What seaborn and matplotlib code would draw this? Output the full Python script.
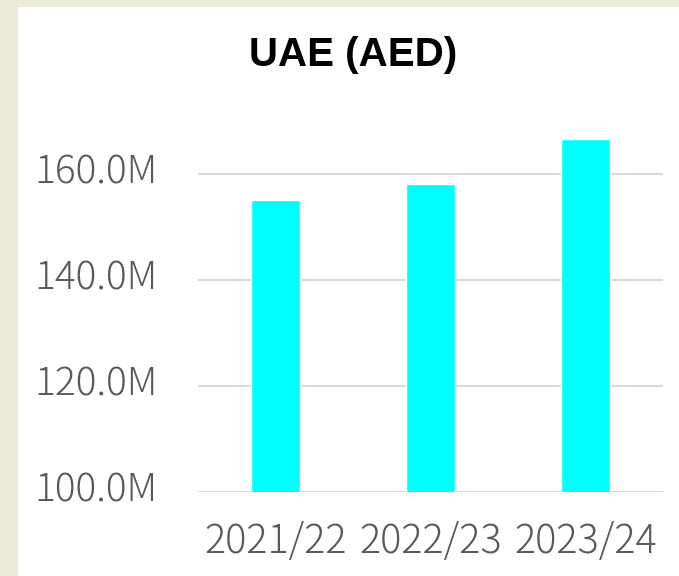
import matplotlib
matplotlib.use('Agg')
import matplotlib.pyplot as plt
import matplotlib.transforms as mtransforms
import seaborn as sns
import pandas as pd
from matplotlib.patches import Rectangle
from matplotlib.ticker import FuncFormatter

# chart data
years = ['2021/22', '2022/23', '2023/24']
revenue_m = [155.1, 158.1, 166.6]
y_ticks = [100, 120, 140, 160]

df = pd.DataFrame({'Year': years, 'Revenue': revenue_m})

sns.set_theme(style='white')
plt.rcParams['font.family'] = ['Noto Sans CJK JP', 'DejaVu Sans']

fig = plt.figure(figsize=(6.79, 5.76), dpi=100, facecolor='#ECEBDA')
# white card on the beige background
fig.patches.append(Rectangle((18 / 679, 0), 1, (576 - 7) / 576,
                             transform=fig.transFigure, facecolor='white',
                             edgecolor='none', zorder=-10))

ax = fig.add_axes([198 / 679, 84 / 576, 465 / 679, 371 / 576])
ax.set_facecolor('none')

sns.barplot(x='Year', y='Revenue', data=df, color='#00FFFF', width=0.32,
            saturation=1, ax=ax, zorder=3)

ax.set_xlim(-0.5, 2.5)
ax.set_ylim(100, 170)
ax.set_yticks(y_ticks)
ax.yaxis.set_major_formatter(FuncFormatter(lambda v, p: f'{v:.1f}M'))
ax.grid(axis='y', color='#D9D9D9', linewidth=1.5, zorder=0)
ax.grid(axis='x', visible=False)
ax.set_axisbelow(True)
for s in ax.spines.values():
    s.set_visible(False)
ax.set_xlabel('')
ax.set_ylabel('')
ax.tick_params(axis='y', length=0, labelsize=28, labelcolor='#595959', pad=29)
ax.tick_params(axis='x', length=0, labelsize=28.5, labelcolor='#595959', pad=21)

# y labels sit slightly above their gridlines in the original
shift = mtransforms.ScaledTranslation(0, 6 / 100, fig.dpi_scale_trans)
for lab in ax.get_yticklabels():
    lab.set_transform(lab.get_transform() + shift)
for lab in ax.get_yticklabels() + ax.get_xticklabels():
    lab.set_fontweight('light')

fig.text(353 / 679, 1 - 55 / 576, 'UAE (AED)', ha='center', va='center',
         fontsize=29, fontweight='bold', color='black',
         family=['Liberation Sans', 'DejaVu Sans'])

fig.savefig('out.png', dpi=100, facecolor=fig.get_facecolor())
